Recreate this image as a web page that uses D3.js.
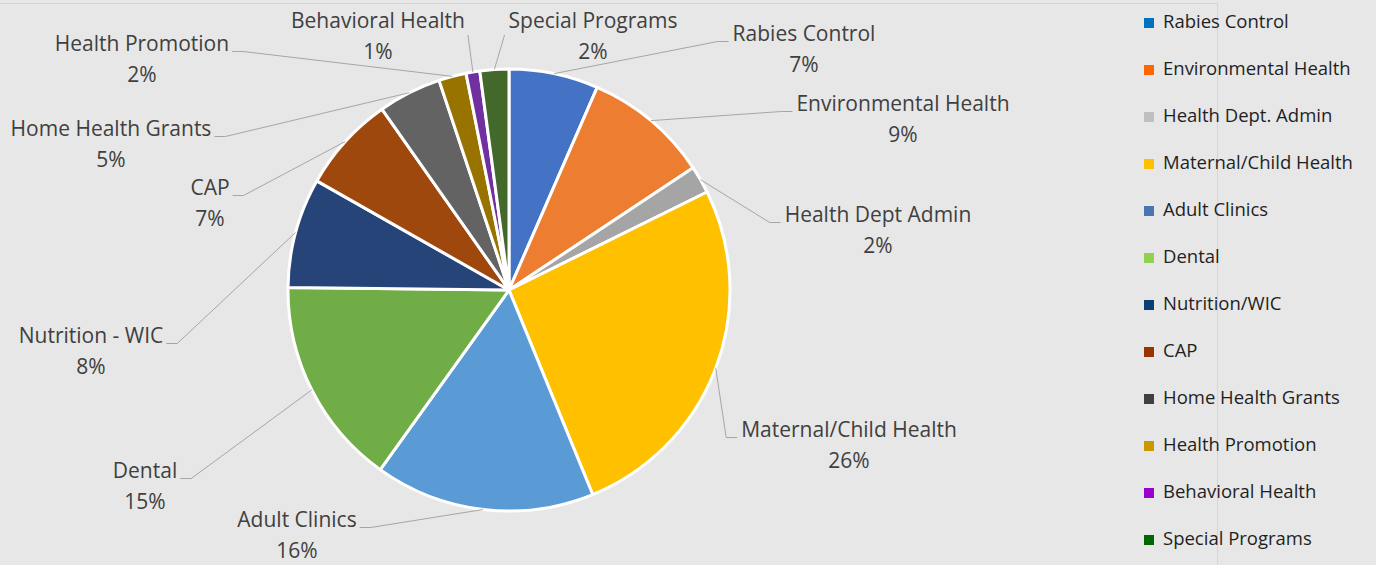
<!DOCTYPE html>
<html>
<head>
<meta charset="utf-8">
<script src="https://cdn.jsdelivr.net/npm/d3@7/dist/d3.min.js"></script>
<style>
  html, body { margin: 0; padding: 0; background: #e7e7e7; }
  svg { display: block; }
</style>
</head>
<body>
<svg id="chart" width="1376" height="565"></svg>
<script>
// ---- data ----
const categories = ["Rabies Control", "Environmental Health", "Health Dept Admin", "Maternal/Child Health",
  "Adult Clinics", "Dental", "Nutrition - WIC", "CAP", "Home Health Grants", "Health Promotion",
  "Behavioral Health", "Special Programs"];
const legendLabels = ["Rabies Control", "Environmental Health", "Health Dept. Admin", "Maternal/Child Health",
  "Adult Clinics", "Dental", "Nutrition/WIC", "CAP", "Home Health Grants", "Health Promotion",
  "Behavioral Health", "Special Programs"];
const values = [6.5, 9.1, 2.0, 26.0, 16.0, 15.2, 8.0, 7.0, 4.6, 2.0, 1.0, 2.1];

// ---- styles / layout ----
const sliceColors = ["#4472C4", "#ED7D31", "#A5A5A5", "#FFC000", "#5B9BD5", "#70AD47",
  "#264478", "#9E480E", "#636363", "#997300", "#7030A0", "#43682B"];
const legendColors = ["#0070C0", "#FF6600", "#BFBFBF", "#FFC000", "#4677AE", "#92D050",
  "#0B3F74", "#993300", "#404040", "#C99700", "#9900CC", "#006600"];
// label anchor: center x, baseline y of first line, side leader attaches, elbow flag
const labelLayout = [
  {x: 804, y: 41, side: "left", elbow: true},
  {x: 903, y: 111, side: "left", elbow: true},
  {x: 878, y: 222, side: "left", elbow: true},
  {x: 849, y: 437, side: "left", elbow: true},
  {x: 297, y: 527, side: "right", elbow: true},
  {x: 145, y: 478, side: "right", elbow: true},
  {x: 91, y: 343, side: "right", elbow: true},
  {x: 210, y: 195, side: "right", elbow: true},
  {x: 111, y: 136, side: "right", elbow: true},
  {x: 142, y: 51, side: "right", elbow: true},
  {x: 378, y: 28, side: "right", elbow: false},
  {x: 593, y: 28, side: "left", elbow: false}
];

const W = 1376, H = 565;
const cx = 509, cy = 290, R = 221;
const fontFamily = "'Open Sans', 'Noto Sans', sans-serif";

const svg = d3.select("#chart");
svg.append("rect").attr("width", W).attr("height", H).attr("fill", "#e7e7e7");
// faint frame lines
svg.append("line").attr("x1", 0).attr("x2", 1217).attr("y1", 3.5).attr("y2", 3.5)
  .attr("stroke", "#d6d6d6").attr("stroke-width", 1);
svg.append("line").attr("x1", 1217.5).attr("x2", 1217.5).attr("y1", 3).attr("y2", H)
  .attr("stroke", "#d6d6d6").attr("stroke-width", 1);

const total = d3.sum(values);
const pct = d3.format(".0%");
const data = categories.map((c, i) => ({name: c, value: values[i], i}));
const pie = d3.pie().sort(null).value(d => d.value);
const arcs = pie(data);
const arc = d3.arc().innerRadius(0).outerRadius(R);

const g = svg.append("g").attr("transform", `translate(${cx},${cy})`);
g.selectAll("path.slice").data(arcs).join("path")
  .attr("class", "slice")
  .attr("d", arc)
  .attr("fill", d => sliceColors[d.data.i])
  .attr("stroke", "#ffffff")
  .attr("stroke-width", 3)
  .attr("stroke-linejoin", "round");

// labels
const labelG = svg.append("g");
arcs.forEach(a => {
  const L = labelLayout[a.data.i];
  const t = labelG.append("text")
    .attr("x", L.x).attr("y", L.y)
    .attr("text-anchor", "middle")
    .attr("font-family", fontFamily)
    .attr("font-size", 21)
    .attr("fill", "#404040");
  t.append("tspan").attr("x", L.x).attr("dy", 0).text(a.data.name);
  t.append("tspan").attr("x", L.x).attr("dy", 30.5).text(pct(a.data.value / total));
  const w = t.select("tspan").node().getComputedTextLength();
  const mid = (a.startAngle + a.endAngle) / 2;
  const ex = cx + R * Math.sin(mid), ey = cy - R * Math.cos(mid);
  let sx, sy = L.y + (L.elbow ? 0.5 : 7);
  if (L.side === "left") sx = L.x - w / 2 - 4; else sx = L.x + w / 2 + 3;
  const pts = [[sx, sy]];
  if (L.elbow) pts.push([L.side === "left" ? sx - 11 : sx + 11, sy]);
  pts.push([ex, ey]);
  labelG.append("path")
    .attr("d", d3.line()(pts))
    .attr("fill", "none")
    .attr("stroke", "#a6a6a6")
    .attr("stroke-width", 1);
});

// legend
const leg = svg.append("g");
legendLabels.forEach((name, i) => {
  const y = 18 + i * 47;
  leg.append("rect").attr("x", 1144).attr("y", y).attr("width", 10).attr("height", 10)
    .attr("fill", legendColors[i]);
  leg.append("text").attr("x", 1163).attr("y", y + 10)
    .attr("font-family", fontFamily).attr("font-size", 18.5).attr("fill", "#1f1f1f")
    .text(name);
});
</script>
</body>
</html>
